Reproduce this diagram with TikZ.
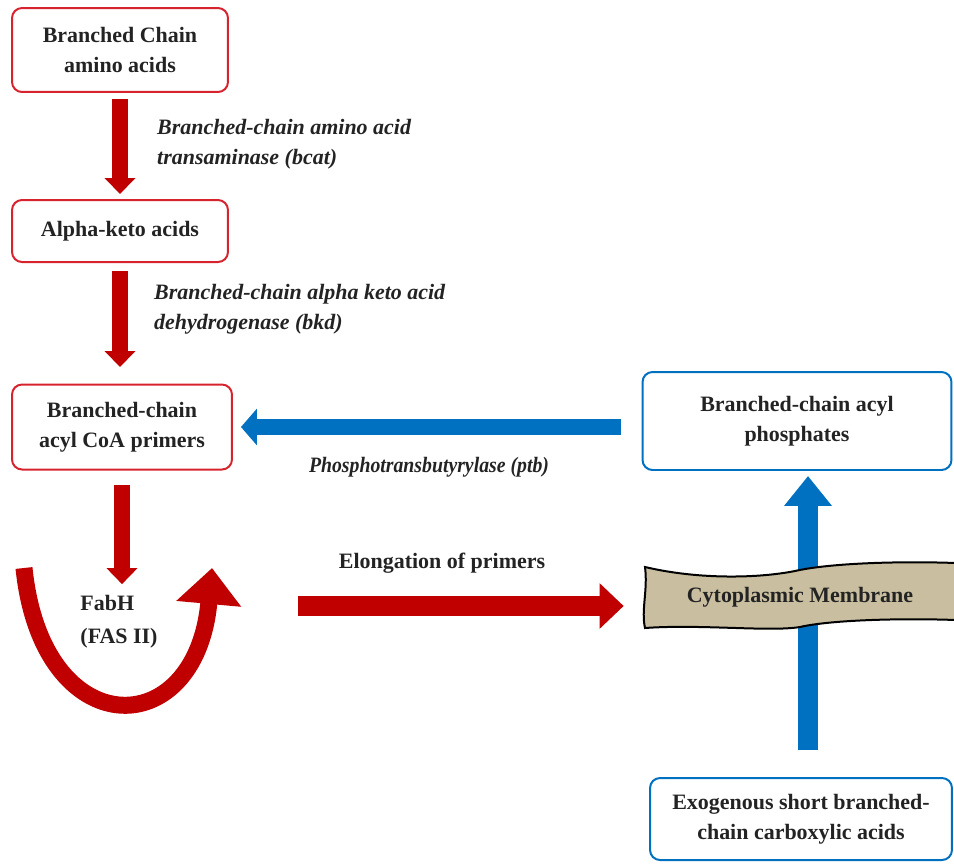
\documentclass[tikz,border=0pt]{standalone}
\usepackage{fontspec}
\setmainfont{Liberation Serif}
\usetikzlibrary{arrows.meta,positioning}

\definecolor{redframe}{RGB}{215,35,45}
\definecolor{redflowcol}{RGB}{192,0,0}
\definecolor{bluecustom}{RGB}{0,112,192}
\definecolor{membranetan}{RGB}{201,191,160}
\definecolor{textgray}{RGB}{35,35,35}

\newcommand{\poolfont}{\fontsize{12.5}{17}\selectfont\bfseries}
\newcommand{\enzymefont}{\fontsize{12.5}{17}\selectfont\bfseries\itshape}

\begin{document}
\begin{tikzpicture}[x=0.02cm,y=-0.02cm,
    poolred/.style={draw=redframe, line width=0.04cm, rounded corners=0.2cm, align=center, font=\poolfont, text=textgray, minimum width=4.32cm},
    poolblue/.style={draw=bluecustom, line width=0.04cm, rounded corners=0.2cm, align=center, font=\poolfont, text=textgray},
    enzyme/.style={font=\enzymefont, align=left, anchor=west, text=textgray},
    redflow/.style={draw=redflowcol, line width=0.32cm, -{Triangle[length=0.32cm,width=0.6cm]}},
    blueflow/.style={draw=bluecustom, line width=0.32cm, -{Triangle[length=0.32cm,width=0.72cm]}}]
    \useasboundingbox (0,0) rectangle (954,863);

    % Left column of pools
    \node[poolred, minimum height=1.68cm] (bcaa) at (120,50) {Branched Chain\\amino acids};
    \node[poolred, minimum height=1.24cm] (keto) at (120,231) {Alpha-keto acids};
    \node[poolred, minimum width=4.4cm, minimum height=1.7cm] (acylcoa) at (122,427) {Branched-chain\\acyl CoA primers};
    \node[font=\fontsize{12.5}{19}\selectfont\bfseries, align=left, text=textgray] (fab) at (119,622) {FabH\\(FAS II)};

    % Right column of pools
    \node[poolblue, minimum width=6.18cm, minimum height=1.96cm] (acylp) at (797,421) {Branched-chain acyl\\phosphates};
    \node[poolblue, minimum width=6.04cm, minimum height=1.64cm] (exo) at (801,819) {Exogenous short branched-\\chain carboxylic acids};

    % Enzyme labels
    \node[enzyme] (bcat) at (151,144) {Branched-chain amino acid\\transaminase (bcat)};
    \node[enzyme] (bkd) at (148,309) {Branched-chain alpha keto acid\\dehydrogenase (bkd)};
    \node[enzyme, anchor=center] (ptb) at (429,467) {\scalebox{0.9}[1]{Phosphotransbutyrylase (ptb)}};
    \node[font=\poolfont, text=textgray] (elongation) at (442,563) {Elongation of primers};

    % Downward red arrows
    \draw[redflow, shorten <=0.12cm, shorten >=0.1cm] (bcaa.south) -- (keto.north);
    \draw[redflow, shorten <=0.16cm, shorten >=0.33cm] (keto.south) -- (keto.south |- acylcoa.north);
    \draw[redflow, shorten <=0.3cm, shorten >=0.1cm] (acylcoa.south) -- (acylcoa.south |- fab.north);

    % FabH loop
    \coordinate (loopin) at (24,568);
    \coordinate (loopout) at (212,568);
    \draw[redflow, line width=0.34cm, -{Triangle[length=0.72cm,width=1.26cm]}] (loopin) .. controls (42,745) and (196,745) .. (loopout);

    % Blue arrows
    \draw[blueflow, shorten <=0.42cm, shorten >=0.16cm] (acylp.west |- acylcoa.east) -- (acylcoa.east);
    \coordinate (upstart) at (808,750);
    \draw[blueflow, line width=0.4cm, -{Triangle[length=0.6cm,width=0.92cm]}, shorten >=0.1cm] (upstart) -- (upstart |- acylp.south);

    % Membrane ribbon
    \draw[fill=membranetan, line width=0.04cm] (645,567) .. controls (700,580) and (760,578) .. (795,571)
        .. controls (830,563) and (900,561) .. (956,563) -- (956,620)
        .. controls (900,618) and (830,620) .. (800,627)
        .. controls (770,632) and (700,624) .. (645,628)
        .. controls (641,610) and (648,590) .. (645,567) -- cycle;
    \node[font=\poolfont, text=textgray, minimum width=6.2cm] (membrane) at (800,597) {Cytoplasmic Membrane};

    % Elongation arrow
    \coordinate (elongstart) at (298,606);
    \draw[redflow, line width=0.4cm, -{Triangle[length=0.48cm,width=0.88cm]}, shorten >=0.42cm] (elongstart) -- (elongstart -| membrane.west);
\end{tikzpicture}
\end{document}
